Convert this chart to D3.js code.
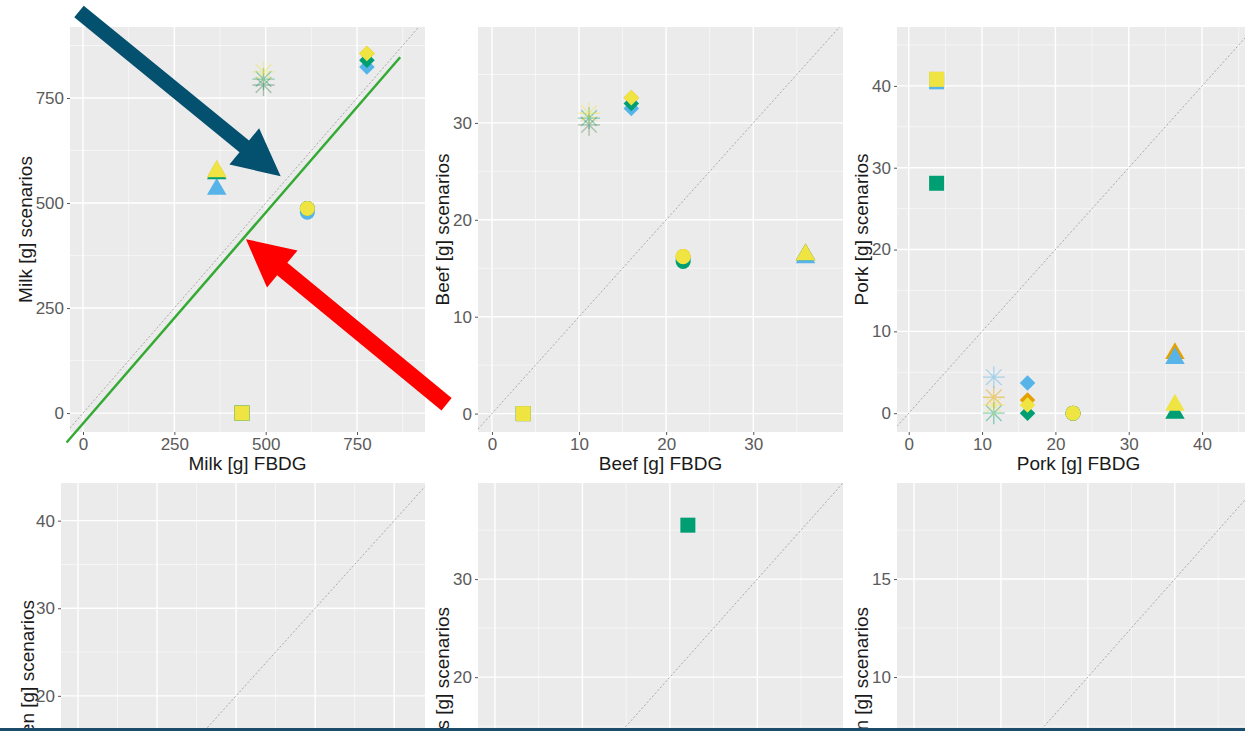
<!DOCTYPE html>
<html>
<head>
<meta charset="utf-8">
<script src="https://cdn.jsdelivr.net/npm/d3@7"></script>
<style>
  body { margin: 0; background: #fff; }
  svg { display: block; font-family: "Liberation Sans", Arial, sans-serif; }
</style>
</head>
<body>
<div id="chart"></div>
<script>
// scenario colours, in the order they are drawn (yellow ends on top)
const scenarios = ["orange", "blue", "green", "yellow"];
const palette = { orange: "#E69F00", blue: "#56B4E9", green: "#009E73", yellow: "#F0E442" };

// one shape per FBDG, same order in every value array below
const shapes = ["square", "triangle", "circle", "diamond", "asterisk"];

// Milk [g]
const milkFBDG   = [435, 366, 614, 777, 494];
const milkOrange = [0, 575, 487, 856, 781];
const milkBlue   = [0, 533, 478, 824, 781];
const milkGreen  = [0, 570, 487, 840, 795];
const milkYellow = [0, 575, 487, 856, 812];

// Beef [g]
const beefFBDG   = [3.6, 36.0, 21.95, 16.0, 11.15];
const beefOrange = [0, 16.4, 16.2, 32.6, 29.8];
const beefBlue   = [0, 16.1, 15.9, 31.5, 29.8];
const beefGreen  = [0, 16.4, 15.7, 32.0, 30.5];
const beefYellow = [0, 16.4, 16.2, 32.6, 31.0];

// Pork [g]
const porkFBDG   = [3.8, 36.3, 22.4, 16.2, 11.6];
const porkOrange = [40.8, 7.3, 0, 1.6, 1.95];
const porkBlue   = [40.5, 6.7, 0, 3.7, 4.4];
const porkGreen  = [28.1, 0, 0, 0, 0];
const porkYellow = [40.8, 1.0, 0, 1.0, 1.0];

// second row, only the part that is in view
const eggsFBDG  = [22.06];
const eggsGreen = [35.5];

const W = 1245, H = 731;

const panels = [
  { xTitle: "Milk [g] FBDG", yTitle: "Milk [g] scenarios", box: [70, 27, 425, 432], titleGap: 38,
    xDom: [-35.6, 936], yDom: [-45, 919], xTicks: [0, 250, 500, 750], yTicks: [0, 250, 500, 750],
    shapes: shapes, x: milkFBDG, values: { orange: milkOrange, blue: milkBlue, green: milkGreen, yellow: milkYellow } },
  { xTitle: "Beef [g] FBDG", yTitle: "Beef [g] scenarios", box: [478, 27, 843, 432], titleGap: 29,
    xDom: [-1.6, 40.3], yDom: [-1.9, 39.9], xTicks: [0, 10, 20, 30], yTicks: [0, 10, 20, 30],
    shapes: shapes, x: beefFBDG, values: { orange: beefOrange, blue: beefBlue, green: beefGreen, yellow: beefYellow } },
  { xTitle: "Pork [g] FBDG", yTitle: "Pork [g] scenarios", box: [897, 27, 1260, 432], titleGap: 29,
    xDom: [-1.6, 47.9], yDom: [-2.3, 47.2], xTicks: [0, 10, 20, 30, 40], yTicks: [0, 10, 20, 30, 40],
    shapes: shapes, x: porkFBDG, values: { orange: porkOrange, blue: porkBlue, green: porkGreen, yellow: porkYellow } },
  { xTitle: "Chicken [g] FBDG", yTitle: "Chicken [g] scenarios", box: [61, 483, 425, 888], titleGap: 27, yTitleEnd: 600,
    xDom: [-2.15, 43.9], yDom: [-1.94, 44.3], xTicks: [0, 10, 20, 30, 40], yTicks: [0, 10, 20, 30, 40],
    shapes: [], x: [], values: {} },
  { xTitle: "Eggs [g] FBDG", yTitle: "Eggs [g] scenarios", box: [478, 483, 843, 888], titleGap: 29, yTitleEnd: 607,
    xDom: [-1.94, 39.8], yDom: [-1.5, 39.8], xTicks: [0, 10, 20, 30], yTicks: [0, 10, 20, 30],
    shapes: ["square"], x: eggsFBDG, values: { green: eggsGreen } },
  { xTitle: "Salmon [g] FBDG", yTitle: "Salmon [g] scenarios", box: [897, 483, 1260, 888], titleGap: 29, yTitleEnd: 607,
    xDom: [-0.98, 19.9], yDom: [-0.76, 19.9], xTicks: [0, 5, 10, 15], yTicks: [0, 5, 10, 15],
    shapes: [], x: [], values: {} }
];

// ggplot shape 8: plus and cross laid over each other
const asteriskType = {
  draw(ctx, size) {
    const r = Math.sqrt(size) / 2;
    [0, 45, 90, 135].forEach(a => {
      const t = a * Math.PI / 180;
      ctx.moveTo(r * Math.cos(t), r * Math.sin(t));
      ctx.lineTo(-r * Math.cos(t), -r * Math.sin(t));
    });
  }
};

const symbolFor = {
  square:   d3.symbol(d3.symbolSquare, 225),
  triangle: d3.symbol(d3.symbolTriangle, 165),
  circle:   d3.symbol(d3.symbolCircle, 177),
  diamond:  d3.symbol(d3.symbolSquare, 121),
  asterisk: d3.symbol(asteriskType, 484)
};

const svg = d3.select("#chart").append("svg")
  .attr("width", W).attr("height", H);

const midpoints = t => t.slice(0, -1).map((v, i) => (v + t[i + 1]) / 2)
  .concat([t[0] - (t[1] - t[0]) / 2, t[t.length - 1] + (t[1] - t[0]) / 2]);

const scales = [];

panels.forEach((p, pi) => {
  const [x0, y0, x1, y1] = p.box;
  const x = d3.scaleLinear().domain(p.xDom).range([x0, x1]);
  const y = d3.scaleLinear().domain(p.yDom).range([y1, y0]);
  scales.push({ x, y });

  const g = svg.append("g");
  const clipId = "clip" + pi;
  g.append("clipPath").attr("id", clipId)
    .append("rect").attr("x", x0).attr("y", y0).attr("width", x1 - x0).attr("height", y1 - y0);

  g.append("rect").attr("x", x0).attr("y", y0).attr("width", x1 - x0).attr("height", y1 - y0)
    .attr("fill", "#EBEBEB");

  const grid = g.append("g").attr("clip-path", `url(#${clipId})`);
  const inX = v => v > p.xDom[0] && v < p.xDom[1];
  const inY = v => v > p.yDom[0] && v < p.yDom[1];

  grid.selectAll(".vminor").data(midpoints(p.xTicks).filter(inX)).join("line")
    .attr("x1", d => x(d)).attr("x2", d => x(d)).attr("y1", y0).attr("y2", y1)
    .attr("stroke", "#fff").attr("stroke-width", 0.8).attr("opacity", 0.7);
  grid.selectAll(".hminor").data(midpoints(p.yTicks).filter(inY)).join("line")
    .attr("y1", d => y(d)).attr("y2", d => y(d)).attr("x1", x0).attr("x2", x1)
    .attr("stroke", "#fff").attr("stroke-width", 0.8).attr("opacity", 0.7);
  grid.selectAll(".vmajor").data(p.xTicks).join("line")
    .attr("x1", d => x(d)).attr("x2", d => x(d)).attr("y1", y0).attr("y2", y1)
    .attr("stroke", "#fff").attr("stroke-width", 1.4);
  grid.selectAll(".hmajor").data(p.yTicks).join("line")
    .attr("y1", d => y(d)).attr("y2", d => y(d)).attr("x1", x0).attr("x2", x1)
    .attr("stroke", "#fff").attr("stroke-width", 1.4);

  // y = x reference
  const lo = Math.max(p.xDom[0], p.yDom[0]), hi = Math.min(p.xDom[1], p.yDom[1]);
  grid.append("line")
    .attr("x1", x(lo)).attr("y1", y(lo)).attr("x2", x(hi)).attr("y2", y(hi))
    .attr("stroke", "#a8a8a8").attr("stroke-width", 1).attr("stroke-dasharray", "2,2");

  // axes
  const xAxis = d3.axisBottom(x).tickValues(p.xTicks).tickSize(3).tickPadding(3);
  const yAxis = d3.axisLeft(y).tickValues(p.yTicks).tickSize(3).tickPadding(3);
  [g.append("g").attr("transform", `translate(0,${y1})`).call(xAxis),
   g.append("g").attr("transform", `translate(${x0},0)`).call(yAxis)].forEach(a => {
    a.select(".domain").remove();
    a.selectAll(".tick line").attr("stroke", "#555");
    a.selectAll(".tick text").attr("fill", "#5a5a5a").style("font-size", "17px");
  });

  g.append("text")
    .attr("x", (x0 + x1) / 2).attr("y", y1 + 38)
    .attr("text-anchor", "middle").attr("fill", "#1a1a1a").style("font-size", "19px")
    .text(p.xTitle);

  const yTitle = g.append("text")
    .attr("fill", "#1a1a1a").style("font-size", "19px").text(p.yTitle);
  const tx = x0 - p.titleGap;
  if (p.yTitleEnd) {
    yTitle.attr("text-anchor", "end")
      .attr("transform", `translate(${tx},${p.yTitleEnd}) rotate(-90)`);
  } else {
    yTitle.attr("text-anchor", "middle")
      .attr("transform", `translate(${tx},${(y0 + y1) / 2}) rotate(-90)`);
  }

  // points
  const pts = [];
  scenarios.forEach(s => {
    const vals = p.values[s];
    if (!vals) return;
    vals.forEach((v, i) => pts.push({ shape: p.shapes[i], fbdg: p.x[i], value: v, scen: s }));
  });
  const marks = g.append("g").attr("clip-path", `url(#${clipId})`);
  marks.selectAll("path").data(pts).join("path")
    .attr("d", d => symbolFor[d.shape]())
    .attr("transform", d => `translate(${x(d.fbdg)},${y(d.value)})` + (d.shape === "diamond" ? " rotate(45)" : ""))
    .attr("fill", d => d.shape === "asterisk" ? "none" : palette[d.scen])
    .attr("stroke", d => d.shape === "asterisk" ? palette[d.scen] : "none")
    .attr("stroke-width", 1.3)
    .attr("opacity", d => d.shape === "asterisk" ? 0.45 : 1);
});

// annotations laid over the milk panel, placed in its data units
const milk = scales[0];
const greenLine = [[-45, -70], [868, 847]];
const arrows = [
  { from: [-11, 956], to: [541, 564], color: "#03506F", shaft: 15, head: 47, len: 47 },
  { from: [995, 21], to: [446, 414], color: "#FF0000", shaft: 16, head: 48, len: 47 }
];

svg.append("line")
  .attr("x1", milk.x(greenLine[0][0])).attr("y1", milk.y(greenLine[0][1]))
  .attr("x2", milk.x(greenLine[1][0])).attr("y2", milk.y(greenLine[1][1]))
  .attr("stroke", "#33AA33").attr("stroke-width", 2.5);

arrows.forEach(a => {
  const tx = milk.x(a.from[0]), ty = milk.y(a.from[1]);
  const hx = milk.x(a.to[0]), hy = milk.y(a.to[1]);
  const L = Math.hypot(hx - tx, hy - ty);
  const ux = (hx - tx) / L, uy = (hy - ty) / L;
  const nx = -uy, ny = ux;
  const bx = hx - ux * a.len, by = hy - uy * a.len;
  const s = a.shaft / 2, h = a.head / 2;
  const poly = [
    [tx + nx * s, ty + ny * s], [bx + nx * s, by + ny * s], [bx + nx * h, by + ny * h],
    [hx, hy],
    [bx - nx * h, by - ny * h], [bx - nx * s, by - ny * s], [tx - nx * s, ty - ny * s]
  ];
  svg.append("path").attr("d", d3.line()(poly) + "Z").attr("fill", a.color);
});

// slide border at the bottom edge
svg.append("rect").attr("x", 0).attr("y", H - 3).attr("width", W).attr("height", 3).attr("fill", "#1B4C6B");
</script>
</body>
</html>
